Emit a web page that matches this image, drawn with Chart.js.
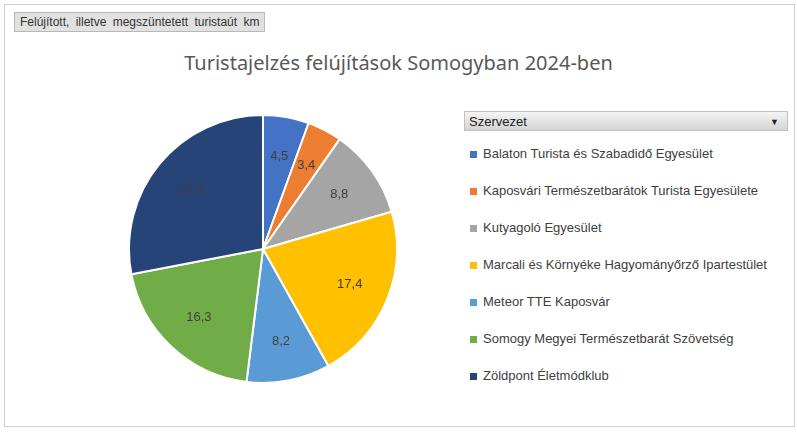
<!DOCTYPE html>
<html>
<head>
<meta charset="utf-8">
<script src="https://cdn.jsdelivr.net/npm/chart.js@4"></script>
<style>
body{margin:0;width:797px;height:432px;background:#fff;font-family:"Liberation Sans",Arial,sans-serif;position:relative;overflow:hidden}
.frame{position:absolute;left:4px;top:4px;width:789px;height:421px;border:1px solid #d0d0d0}
.btn{position:absolute;left:14px;top:12px;padding:2px 5px;background:#e1e1e1;border:1px solid #b8b8b8;font-size:12px;color:#333;word-spacing:3px}
.title{position:absolute;left:0;width:797px;top:49px;text-align:center;font-size:20px;color:#595959;font-family:"Noto Sans","Liberation Sans",sans-serif}
#wrap{position:absolute;left:128px;top:114px;width:270px;height:270px}
.lhead{position:absolute;left:464px;top:111px;width:324px;height:20px;background:linear-gradient(#f4f4f4,#d4d4d4);border:1px solid #c0c0c0;font-size:13px;color:#222;line-height:20px;padding-left:4px;box-sizing:border-box}
.lhead span{position:absolute;right:8px;top:0;font-size:9px}
.legend{position:absolute;left:470px;top:142px;font-size:13px;color:#404040}
.legend div{height:37px;line-height:24px}
.legend i{display:inline-block;width:7px;height:7px;margin-right:6px}
</style>
</head>
<body>
<div class="frame"></div>
<div class="btn">Felújított, illetve megszüntetett turistaút km</div>
<div class="title">Turistajelzés felújítások Somogyban 2024-ben</div>
<div id="wrap"><canvas id="pie"></canvas></div>
<div class="lhead">Szervezet<span>▼</span></div>
<div class="legend" id="legend"></div>
<script>
const szervezetek = [
    "Balaton Turista és Szabadidő Egyesület",
    "Kaposvári Természetbarátok Turista Egyesülete",
    "Kutyagoló Egyesület",
    "Marcali és Környéke Hagyományőrző Ipartestület",
    "Meteor TTE Kaposvár",
    "Somogy Megyei Természetbarát Szövetség",
    "Zöldpont Életmódklub"
];
const km = [4.5, 3.4, 8.8, 17.4, 8.2, 16.3, 22.8];
const szinek = ["#4472C4", "#ED7D31", "#A5A5A5", "#FFC000", "#5B9BD5", "#70AD47", "#264478"];

// jelmagyarazat
document.getElementById("legend").innerHTML = szervezetek
    .map((nev, i) => `<div><i style="background:${szinek[i]}"></i>${nev}</div>`).join("");

const cimkek = {
    id: "cimkek",
    afterDatasetsDraw(chart) {
        const ctx = chart.ctx;
        ctx.save();
        ctx.font = "13px 'Liberation Sans', Arial";
        ctx.fillStyle = "#404040";
        ctx.textAlign = "center";
        ctx.textBaseline = "middle";
        chart.getDatasetMeta(0).data.forEach((arc, i) => {
            const p = arc.getProps(["x", "y", "startAngle", "endAngle", "outerRadius"]);
            const a = (p.startAngle + p.endAngle) / 2;
            const r = p.outerRadius * 0.7;
            ctx.fillText(km[i].toFixed(1).replace(".", ","), p.x + Math.cos(a) * r, p.y + Math.sin(a) * r);
        });
        ctx.restore();
    }
};

new Chart(document.getElementById("pie"), {
    type: "pie",
    data: {
        labels: szervezetek,
        datasets: [{
            data: km,
            backgroundColor: szinek,
            borderColor: "#fff",
            borderWidth: 2
        }]
    },
    options: {
        responsive: true,
        maintainAspectRatio: false,
        animation: false,
        plugins: { legend: { display: false }, tooltip: { enabled: false } }
    },
    plugins: [cimkek]
});
</script>
</body>
</html>
